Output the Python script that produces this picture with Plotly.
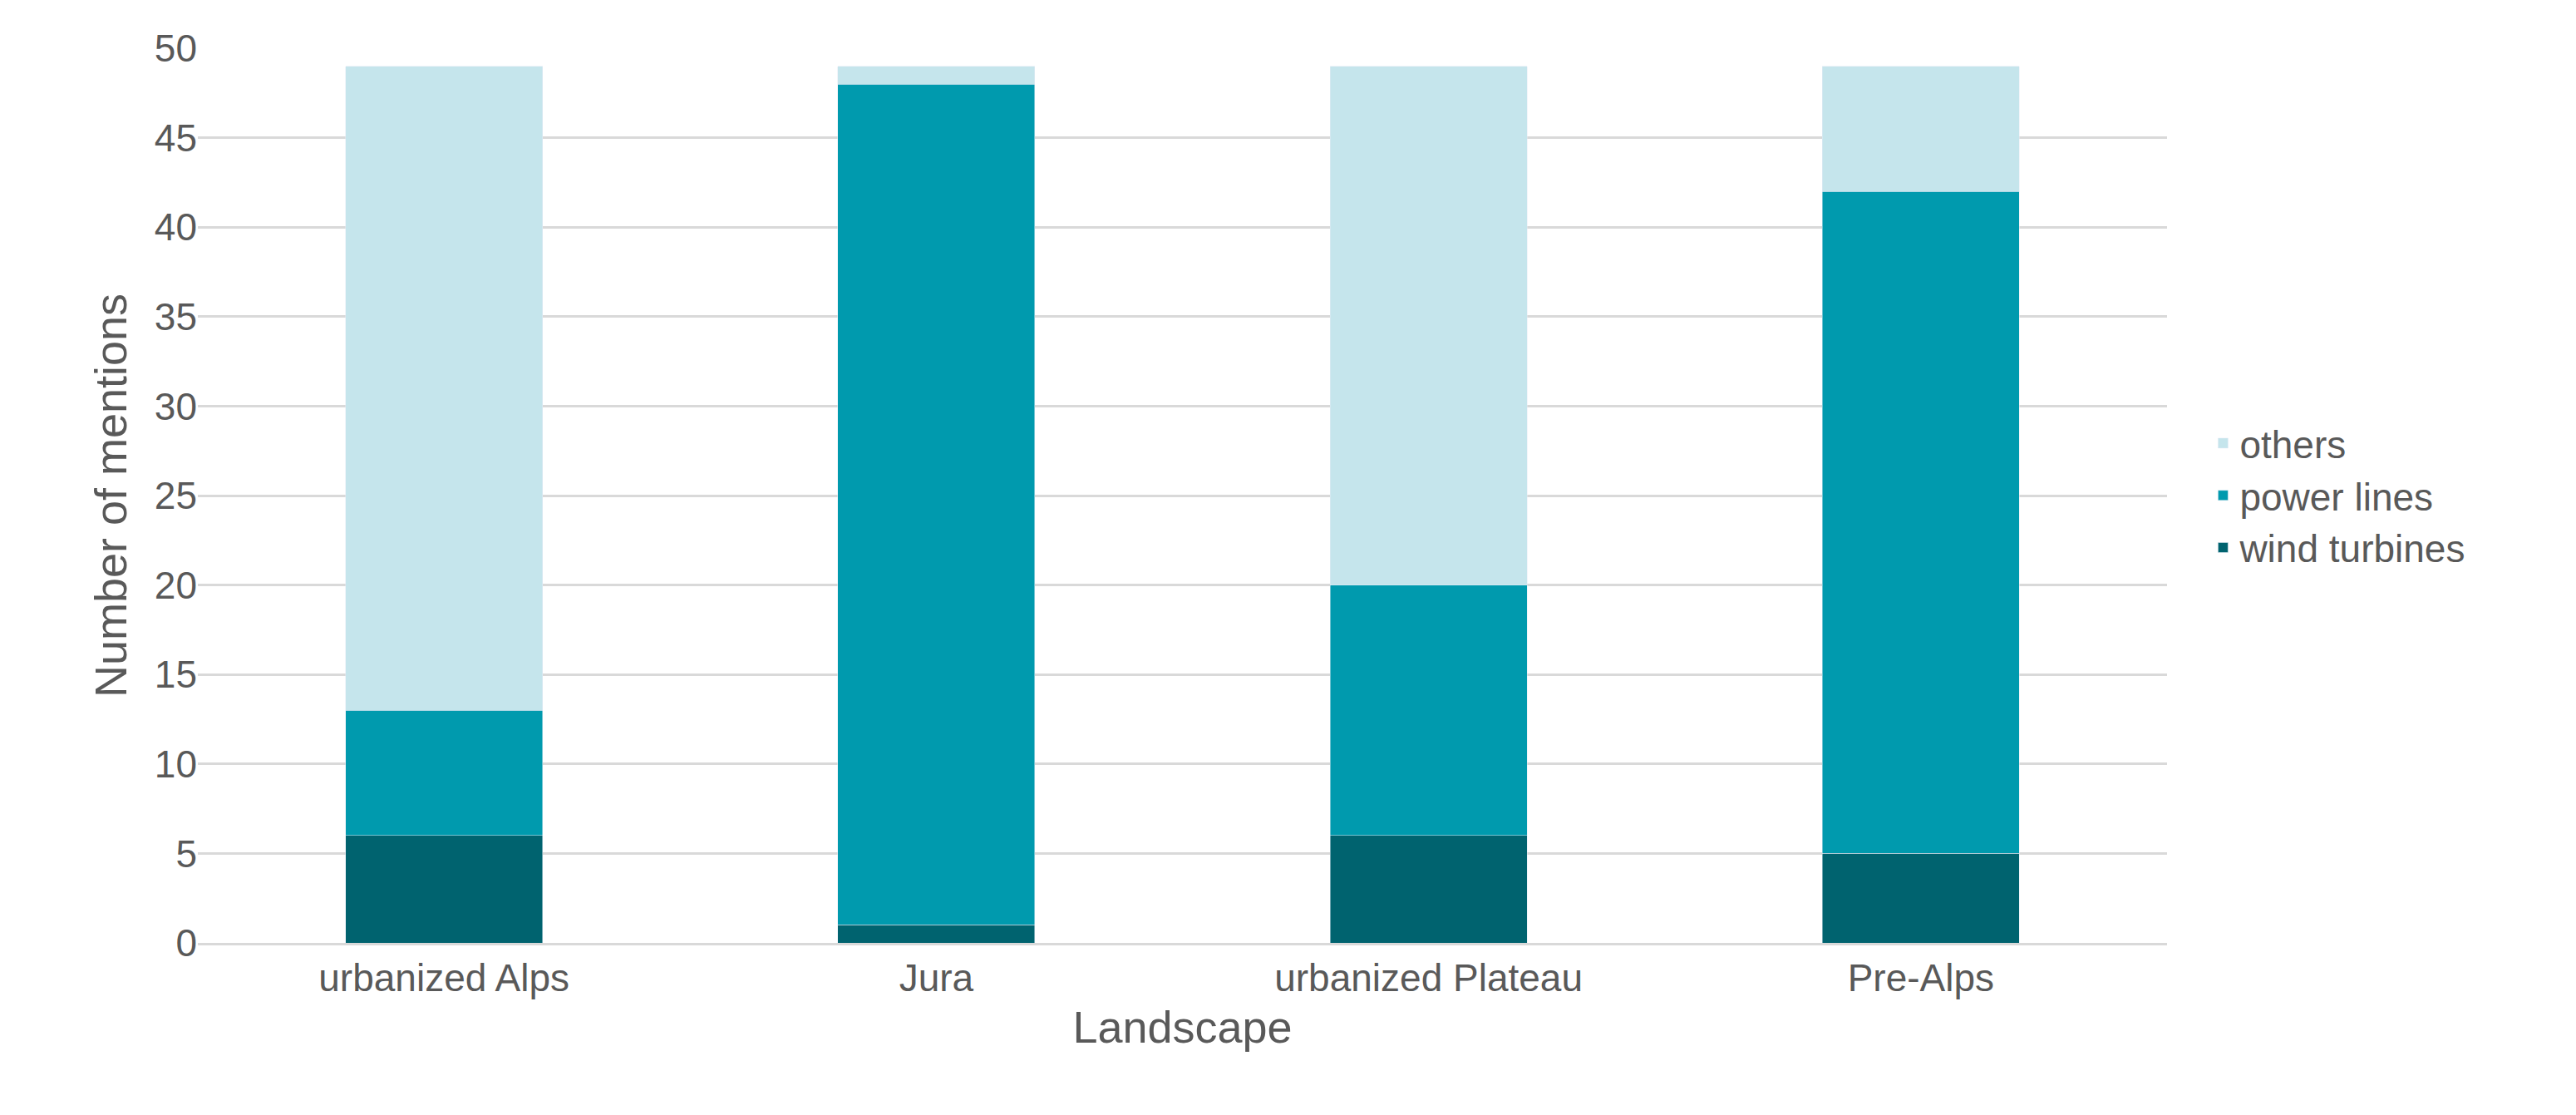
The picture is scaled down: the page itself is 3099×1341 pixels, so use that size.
import plotly.graph_objects as go

landscapes = ["urbanized Alps", "Jura", "urbanized Plateau", "Pre-Alps"]
wind_turbines = [6, 1, 6, 5]
power_lines = [7, 47, 14, 37]
others = [36, 1, 29, 7]

grey = "#595959"
fig = go.Figure()
fig.add_bar(name="wind turbines", x=landscapes, y=wind_turbines, marker_color="#00636f")
fig.add_bar(name="power lines", x=landscapes, y=power_lines, marker_color="#009aae")
fig.add_bar(name="others", x=landscapes, y=others, marker_color="#c5e5ec")

fig.update_layout(
    barmode="stack", bargap=0.6,
    width=3099, height=1341,
    margin=dict(l=230, r=500, t=50, b=215),
    plot_bgcolor="white", paper_bgcolor="white",
    font=dict(family="Liberation Sans, Arial", size=46, color=grey),
    legend=dict(traceorder="reversed", x=1.02, y=0.5, yanchor="middle",
                font=dict(size=46, color=grey), itemwidth=30),
    xaxis=dict(title=dict(text="Landscape", font=dict(size=54)), showline=True,
               linecolor="#d9d9d9", linewidth=3, ticks=""),
    yaxis=dict(title=dict(text="Number of mentions", font=dict(size=54)),
               range=[0, 50], dtick=5, gridcolor="#d9d9d9", gridwidth=3,
               zeroline=False, ticks=""),
)
fig.write_html("out.html")
